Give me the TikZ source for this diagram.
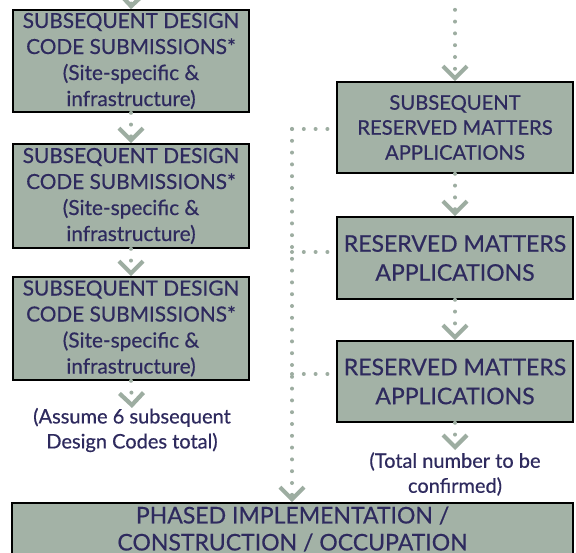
\documentclass[tikz,border=0pt]{standalone}
\usepackage{fontspec}
\setmainfont{Lato}[FakeBold=0.5]
\usetikzlibrary{arrows.meta}
\definecolor{boxfill}{HTML}{A3B2A6}
\definecolor{txt}{HTML}{2E2A5E}
\definecolor{dotc}{HTML}{9DADA1}
\tikzset{
  box/.style={draw=black, line width=1.6pt, fill=boxfill, text=txt, align=center, inner sep=0pt},
  lbox/.style={box, minimum width=236pt, font=\fontsize{20.8}{26}\selectfont},
  rbox/.style={box, minimum width=236pt},
  note/.style={text=txt, align=center, font=\fontsize{20}{25}\selectfont},
  dotline/.style={draw=dotc, line width=4pt, line cap=round, dash pattern=on 0pt off 11.8pt},
  chev/.style={-{Straight Barb[length=12pt,width=24pt,line width=4.2pt,line cap=butt,line join=miter,color=dotc]}}
}
\begin{document}
\begin{tikzpicture}[x=1pt,y=-1pt]
\useasboundingbox (0,0) rectangle (576,553);
\clip (0,0) rectangle (576,553);
\fill[white] (0,0) rectangle (576,553);
% left column
\node[lbox, minimum height=102pt] (L1) at (131,61) {SUBSEQUENT DESIGN\\CODE SUBMISSIONS*\\(Site-specific \&\\infrastructure)};
\node[lbox, minimum height=104pt] (L2) at (131,196) {SUBSEQUENT DESIGN\\CODE SUBMISSIONS*\\(Site-specific \&\\infrastructure)};
\node[lbox, minimum height=103pt] (L3) at (131,328.5) {SUBSEQUENT DESIGN\\CODE SUBMISSIONS*\\(Site-specific \&\\infrastructure)};
\node[note] (A1) at (132,430) {(Assume 6 subsequent\\Design Codes total)};
% right column
\node[rbox, minimum height=91pt, font=\fontsize{20.2}{25}\selectfont] (R1) at (455,127.5) {SUBSEQUENT\\RESERVED MATTERS\\APPLICATIONS};
\node[rbox, minimum height=82pt, font=\fontsize{23}{29}\selectfont] (R2) at (455,258) {RESERVED MATTERS\\APPLICATIONS};
\node[rbox, minimum height=81pt, font=\fontsize{23}{29}\selectfont] (R3) at (455,381.5) {RESERVED MATTERS\\APPLICATIONS};
\node[note] (A2) at (455,474) {(Total number to be\\confirmed)};
% bottom
\node[box, minimum width=561pt, minimum height=70pt, font=\fontsize{23}{27}\selectfont] (B) at (292.5,538) {PHASED IMPLEMENTATION /\\CONSTRUCTION / OCCUPATION\\[-8pt]};
% coordinates
\coordinate (t1) at (132,-20);
\coordinate (t2) at (455,-2);
\coordinate (a1) at (132,408);
\coordinate (a2) at (455,450);
\coordinate (j1) at (292,129);
\coordinate (j2) at (292,252);
\coordinate (j3) at (292,374);
% connectors
\draw[dotline, chev] (t1) -- (L1.north);
\draw[dotline, chev] (L1.south) -- (L2.north);
\draw[dotline, chev] (L2.south) -- (L3.north);
\draw[dotline, chev] (L3.south) -- (a1);
\draw[dotline, chev] (t2) -- (R1.north);
\draw[dotline, chev] (R1.south) -- (R2.north);
\draw[dotline, chev] (R2.south) -- (R3.north);
\draw[dotline, chev] (R3.south) -- (a2);
\draw[dotline] (j1) -- (j1 -| R1.west);
\draw[dotline] (j2) -- (j2 -| R2.west);
\draw[dotline] (j3) -- (j3 -| R3.west);
\draw[dotline, chev] (j1) -- (j1 |- B.north);
\end{tikzpicture}
\end{document}
